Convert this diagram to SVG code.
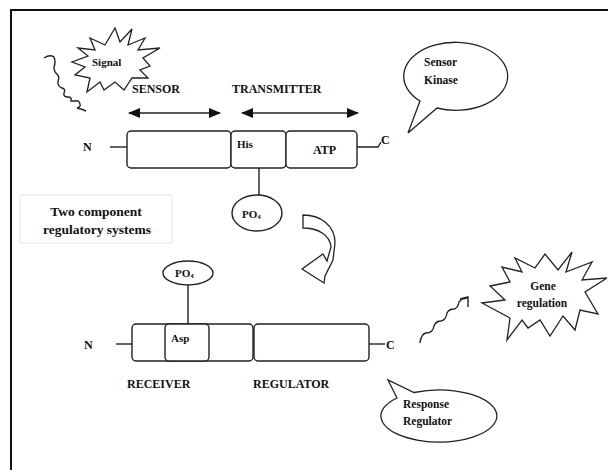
<svg xmlns="http://www.w3.org/2000/svg" width="608" height="470" viewBox="0 0 608 470">
<defs>
<style>
.t{font-family:"Liberation Serif","Times New Roman",serif;font-weight:bold;fill:#111}
.s12{font-size:12px}
.s11{font-size:11.5px}
.s13{font-size:13.5px}
.box{fill:#fff;stroke:#222;stroke-width:1.4}
.ln{fill:none;stroke:#222;stroke-width:1.4}
.sh{fill:#fff;stroke:#222;stroke-width:1.3;stroke-linejoin:miter}
</style>
<marker id="ah" viewBox="0 0 12 10" refX="11" refY="5" markerWidth="12" markerHeight="10" markerUnits="userSpaceOnUse" orient="auto-start-reverse">
<path d="M0,0 L12,5 L0,10 Z" fill="#111"/>
</marker>
</defs>
<rect width="608" height="470" fill="#fff"/>
<!-- frame -->
<path d="M11,470 L11,10 L608,10" fill="none" stroke="#111" stroke-width="2"/>

<g id="signal">
<path class="ln" stroke-width="1.2" d="M44,58 Q50,54 54,57 Q56,62 54,67 Q54,72 57,74 Q60,77 58,81 Q57,86 62,88 Q66,89 64,93 Q63,97 68,97 Q72,97 71,101 L76,101 Q79,100 80,104 Q81,107 77,108 Q82,109 86,111"/>
<polygon class="sh" points="132,29 128,45 145,38 138,50 160,48 143,58 150,66 140,70 148,78 132,78 124,90 115,82 104,90 100,82 87,92 90,78 75,75 85,67 72,62 88,56 78,48 95,50 90,38 105,45 115,28 120,42"/>
<text class="t" x="92" y="66" font-size="11px">Signal</text>
</g>

<g id="labels-top">
<text class="t s12" x="132" y="93">SENSOR</text>
<text class="t s12" x="232" y="93">TRANSMITTER</text>
</g>

<g id="connectors">
<line class="ln" x1="129" y1="113" x2="220" y2="113" stroke-width="1.6" marker-start="url(#ah)" marker-end="url(#ah)"/>
<line class="ln" x1="242" y1="113" x2="358" y2="113" stroke-width="1.6" marker-start="url(#ah)" marker-end="url(#ah)"/>
<line class="ln" x1="110" y1="147" x2="127" y2="147"/>
<polyline class="ln" points="357,147 378,147 381,142"/>
<line class="ln" x1="259" y1="168" x2="259" y2="195"/>
<line class="ln" x1="188" y1="285" x2="188" y2="324"/>
<line class="ln" x1="116" y1="344" x2="132" y2="344" stroke-width="2"/>
<line class="ln" x1="369" y1="344" x2="385" y2="344" stroke-width="2"/>
<path class="ln" d="M420,343 Q421,334 426,333 Q433,333 434,326 Q436,321 441,321 Q446,320 447,313 Q449,309 454,309 Q458,308 459,302 L462,299 L467,298"/>
<polyline class="ln" points="460,299 468,297 468,307"/>
<path class="sh" stroke-width="1.5" d="M303,215 C320,215 335,225 335,243 L333,260 L325,276 L324,283 L302,269 L323,254 L327,261 L331,247 C330,235 318,228 303,228 Z"/>
</g>

<g id="sensor-kinase">
<rect class="box" x="127" y="131" width="104" height="37" rx="4"/>
<rect class="box" x="231" y="131" width="55" height="37" rx="4"/>
<rect class="box" x="286" y="131" width="71" height="37" rx="4"/>
<text class="t s12" x="83" y="151">N</text>
<text class="t s12" x="381" y="144">C</text>
<text class="t" x="237" y="148" font-size="11px">His</text>
<text class="t s12" x="313" y="154">ATP</text>
</g>

<g id="po4-top">
<ellipse class="box" cx="257" cy="213" rx="25" ry="18"/>
<text class="t" x="242" y="218" font-size="11px">PO<tspan font-size="7px" dy="1">4</tspan></text>
</g>

<g id="title">
<rect x="20" y="195" width="152" height="48" fill="#fff" stroke="#e6e6e6" stroke-width="1"/>
<text class="t s13" x="96" y="216" text-anchor="middle">Two component</text>
<text class="t s13" x="97" y="234" text-anchor="middle">regulatory systems</text>
</g>

<g id="po4-bottom">
<ellipse class="box" cx="188" cy="273" rx="25" ry="12"/>
<text class="t" x="175" y="277" font-size="11px">PO<tspan font-size="7px" dy="1">4</tspan></text>
</g>

<g id="response-protein">
<rect class="box" x="132" y="324" width="121" height="37" rx="4"/>
<rect class="box" x="165" y="324" width="44" height="37" rx="4"/>
<rect class="box" x="254" y="324" width="115" height="37" rx="4"/>
<text class="t s12" x="84" y="349">N</text>
<text class="t s12" x="386" y="349">C</text>
<text class="t" x="171" y="342" font-size="11px">Asp</text>
<text class="t s12" x="127" y="388">RECEIVER</text>
<text class="t s12" x="253" y="388">REGULATOR</text>
</g>

<g id="bubble-sensor-kinase">
<path class="sh" d="M420,101 L408,133 L437,108 A52,34 0 1 0 420,101 Z"/>
<text class="t s11" x="424" y="66">Sensor</text>
<text class="t s11" x="424" y="84">Kinase</text>
</g>

<g id="gene-regulation">
<polygon class="sh" points="572,252 566,272 592,262 582,280 607,278 585,292 598,314 580,310 575,330 563,316 550,336 540,320 528,328 522,320 507,340 510,318 482,303 505,300 490,286 510,282 502,267 522,272 515,258 535,268 545,254 558,270"/>
<text class="t s11" x="543" y="290" text-anchor="middle">Gene</text>
<text class="t s11" x="542" y="307" text-anchor="middle">regulation</text>
</g>

<g id="bubble-response-regulator">
<path class="sh" d="M397,398 L388,380 L414,392.5 A58,26 0 1 1 397,398 Z"/>
<text class="t s11" x="403" y="408">Response</text>
<text class="t s11" x="403" y="425">Regulator</text>
</g>
</svg>
